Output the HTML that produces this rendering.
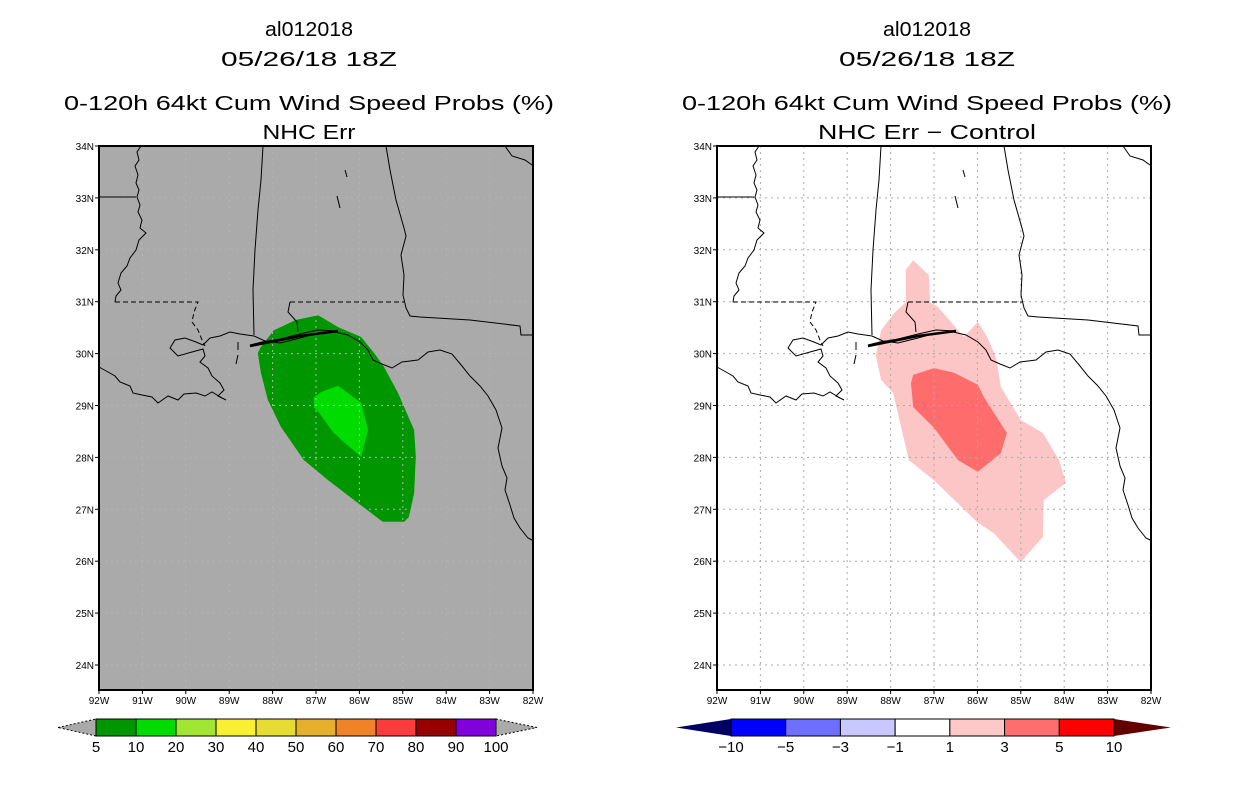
<!DOCTYPE html>
<html><head><meta charset="utf-8"><style>
html,body{margin:0;padding:0;background:#fff;}
svg{display:block;font-family:"Liberation Sans",sans-serif;}
</style></head><body>
<svg id="fig" width="1236" height="800" viewBox="0 0 1236 800" xmlns="http://www.w3.org/2000/svg"></svg>
<script>
// ---- data ----
const lonTicks = [-92,-91,-90,-89,-88,-87,-86,-85,-84,-83,-82];
const lonLabels = ["92W","91W","90W","89W","88W","87W","86W","85W","84W","83W","82W"];
const latTicks = [34,33,32,31,30,29,28,27,26,25,24];
const latLabels = ["34N","33N","32N","31N","30N","29N","28N","27N","26N","25N","24N"];
// left panel contours [lon,lat]
const probLon5 = [-88.34,-88.27,-87.97,-87.46,-86.95,-86.49,-85.96,-85.66,-85.43,-85.11,-84.74,-84.70,-84.74,-84.86,-84.97,-85.46,-86.03,-86.72,-87.28,-87.81,-88.11,-88.27];
const probLat5 = [30.01,30.13,30.45,30.65,30.74,30.51,30.32,30.01,29.74,29.24,28.53,28.01,27.31,26.85,26.76,26.76,27.12,27.56,27.95,28.59,29.11,29.63];
const probLon10 = [-87.05,-86.88,-86.49,-85.96,-85.80,-85.96,-86.42,-86.61,-86.93,-87.05];
const probLat10 = [29.16,29.26,29.38,29.05,28.53,28.01,28.34,28.49,28.86,28.97];
// right panel difference contours
const diffLon1 = [-87.48,-87.12,-87.09,-86.91,-86.31,-85.99,-85.80,-85.57,-85.46,-85.0,-84.49,-84.12,-83.96,-84.47,-84.49,-85.0,-85.62,-85.99,-87.0,-87.58,-87.76,-87.94,-88.22,-88.34,-88.22,-87.92,-87.65,-87.65];
const diffLat1 = [31.80,31.51,30.99,30.90,30.32,30.61,30.36,29.93,29.36,28.72,28.47,27.95,27.51,27.18,26.47,25.98,26.54,26.74,27.56,27.95,28.59,29.24,29.49,29.97,30.45,30.78,30.99,31.61];
const diffLon3 = [-87.48,-87.0,-86.54,-85.99,-85.85,-85.32,-85.46,-85.99,-86.45,-87.0,-87.48,-87.53];
const diffLat3 = [29.59,29.72,29.63,29.40,29.16,28.47,28.08,27.72,27.95,28.57,28.97,29.43];
const probLevels = ["5","10","20","30","40","50","60","70","80","90","100"];
const probColors = ["#009600","#00dc00","#a0e632","#f8f030","#e6dc32","#e6af2d","#f08228","#fa3c3c","#960000","#8200dc"];
const diffLevels = ["\u221210","\u22125","\u22123","\u22121","1","3","5","10"];
const diffColors = ["#0000ff","#6e6eff","#c8c8ff","#ffffff","#ffc8c8","#ff6e6e","#ff0000"];

// ---- helpers ----
const NS="http://www.w3.org/2000/svg";
const svg=document.getElementById('fig');
function mk(tag,attrs,parent){const e=document.createElementNS(NS,tag);for(const k in attrs)e.setAttribute(k,attrs[k]);(parent||svg).appendChild(e);return e;}
const MAPW=434, MAPH=544, MAPY=146;
function xS(X0){return lon=>X0+(lon+92)*43.4;}
function yS(lat){return MAPY+(34-lat)*51.9;}

// coastline / borders (left-map pixel geometry, background geography)
const geo = [
 "M141,146 L137,152 L139,160 L135,166 L138,175 L136,183 L139,190 L137,197 L140,205 L138,212 L142,220 L140,228 L146,233 L139,240 L136,250 L130,258 L127,266 L121,273 L118,283 L121,290 L116,296 L115,302",
 "M99,197 L136,197",
 "M115,302 L198,302 L194,312 L192,322 L198,330 L202,340 L205,346",
 "M263,146 L261,180 L258,210 L255,250 L253,290 L254,335",
 "M386,146 L390,170 L396,200 L404,228 L406,236 L401,255 L404,275 L403,295 L406,308 L410,316 L420,317 L470,320 L520,326 L521,335 L532,335",
 "M290,302 L404,302",
 "M290,302 L288,312 L297,322 L298,332",
 "M254,336 L240,334 L230,332 L220,336 L210,338 L203,345 L196,342 L185,338 L175,340 L170,348 L178,356 L192,352 L203,349 L205,356 L200,362 L208,368 L212,376 L220,383 L224,390 L218,396 L226,400",
 "M99,367 L108,372 L115,376 L120,382 L130,386 L133,393 L142,395 L152,397 L158,403 L168,396 L178,400 L184,394 L196,393 L205,396 L212,392 L222,398",
 "M254,336 L265,341 L280,343 L300,338 L318,333 L335,332 L348,335 L360,342 L368,350 L373,360 L382,364 L392,368 L402,362 L418,360 L428,352 L440,350 L452,354 L462,366 L470,376 L480,386 L488,396 L496,410 L502,428 L498,448 L502,466 L507,478 L505,490 L510,505 L514,518 L520,528 L528,538 L532,540",
 "M250,345 L262,342 L280,339 L300,334 L318,330 L338,331",
 "M238,342 L238,350", "M238,355 L236,364",
 "M345,170 L347,177", "M337,196 L340,208",
 "M505,146 L512,156 L525,160 L532,165"
];

function drawPanel(X0, kind){
  const g=mk('g',{},svg);
  
  
  const X=xS(X0);
  const bg=mk('rect',{x:X0,y:MAPY,width:MAPW,height:MAPH,fill:kind==='prob'?'#aaaaaa':'#ffffff'},g);
  
  
  function poly(lons,lats,fill,name){
    const pts=lons.map((l,i)=>X(l).toFixed(1)+','+yS(lats[i]).toFixed(1)).join(' ');
    const p=mk('polygon',{points:pts,fill:fill},g);
    
    
  }
  if(kind==='prob'){
    poly(probLon5,probLat5,'#009600','contour-5-percent');
    poly(probLon10,probLat10,'#00dc00','contour-10-percent');
  } else {
    poly(diffLon1,diffLat1,'#fdc6c6','contour-diff-1');
    poly(diffLon3,diffLat3,'#fe6c6c','contour-diff-3');
  }
  // grid
  const grid=mk('g',{stroke:kind==='prob'?'#b4b4b4':'#aaaaaa','stroke-width':1,'stroke-dasharray':'2,4',fill:'none'},g);
  
  
  lonTicks.slice(1,-1).forEach(l=>mk('line',{x1:X(l),y1:MAPY,x2:X(l),y2:MAPY+MAPH},grid));
  latTicks.slice(1).forEach(l=>mk('line',{x1:X0,y1:yS(l),x2:X0+MAPW,y2:yS(l)},grid));
  // geography
  const geoG=mk('g',{stroke:'#000','stroke-width':1,fill:'none',transform:'translate('+(X0-99)+',0)'},g);
  
  
  geo.forEach((d,i)=>{const p=mk('path',{d:d},geoG); if(i===2||i===5){p.setAttribute('stroke-dasharray','5,3');}});
  mk('path',{d:'M250,346 L300,336 L338,331',stroke:'#000','stroke-width':2.5,fill:'none',transform:'translate('+(X0-99)+',0)'},g);
  // frame
  const fr=mk('rect',{x:X0,y:MAPY,width:MAPW,height:MAPH,fill:'none',stroke:'#000','stroke-width':2},g);
  
  
  // axis ticks + labels
  lonTicks.forEach((l,i)=>{
    mk('line',{x1:X(l),y1:MAPY+MAPH,x2:X(l),y2:MAPY+MAPH+4,stroke:'#000'},g);
    const t=mk('text',{x:X(l),y:MAPY+MAPH+14,'font-size':10,'text-anchor':'middle'},g);
    t.textContent=lonLabels[i];
    
    
  });
  latTicks.forEach((l,i)=>{
    mk('line',{x1:X0-4,y1:yS(l),x2:X0,y2:yS(l),stroke:'#000'},g);
    const t=mk('text',{x:X0-5,y:yS(l)+4,'font-size':10,'text-anchor':'end'},g);
    t.textContent=latLabels[i];
    
    
  });
}

function titles(cx, sub, subW){
  const lines=[["al012018",29,88],["05/26/18 18Z",59,176],["0-120h 64kt Cum Wind Speed Probs (%)",103,490],[sub,132,subW]];
  lines.forEach((ln,i)=>{
    const t=mk('text',{x:cx,y:ln[1]+7,'font-size':20,'text-anchor':'middle',textLength:ln[2],lengthAdjust:'spacingAndGlyphs'});
    t.textContent=ln[0];
    
    
  });
}

function colorbar(x0,x1,tl,tr,colors,levels,leftTri,rightTri,name,dashed){
  const g=mk('g',{},svg);
  
  
  const y0=719,y1=736,ym=727.5;
  const w=(x1-x0)/colors.length;
  mk('polygon',{points:`${tl},${ym} ${x0},${y0} ${x0},${y1}`,fill:leftTri,stroke:dashed?'#000':'none','stroke-dasharray':'2,2','stroke-width':dashed?1:0},g);
  mk('polygon',{points:`${tr},${ym} ${x1},${y0} ${x1},${y1}`,fill:rightTri,stroke:dashed?'#000':'none','stroke-dasharray':'2,2','stroke-width':dashed?1:0},g);
  colors.forEach((c,i)=>{
    const r=mk('rect',{x:x0+i*w,y:y0,width:w,height:y1-y0,fill:c,stroke:'#000','stroke-width':1},g);
    
    
  });
  levels.forEach((lv,i)=>{
    const t=mk('text',{x:x0+i*w,y:752,'font-size':15,'text-anchor':'middle'},g);
    t.textContent=lv;
    
    
  });
}

drawPanel(99,'prob');
drawPanel(717,'diff');
titles(309,"NHC Err",93);
titles(927,"NHC Err \u2212 Control",218);
colorbar(96,496,58,537,probColors,probLevels,'#aaaaaa','#aaaaaa','probability-colorbar',true);
colorbar(731,1114,676,1171,diffColors,diffLevels,'#000064','#640000','difference-colorbar',false);
</script>
</body></html>
